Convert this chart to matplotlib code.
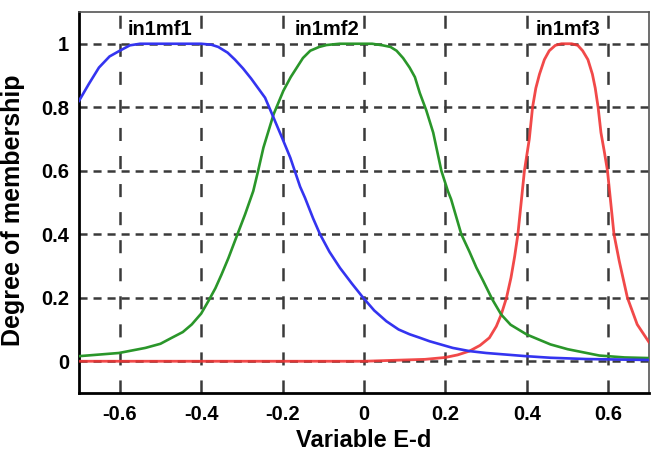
import matplotlib
matplotlib.use("Agg")
import matplotlib.pyplot as plt

plt.rcParams['font.family'] = ['Liberation Sans', 'DejaVu Sans']
plt.rcParams['lines.scale_dashes'] = False

# in1mf1 (blue)
mf1_x = [-0.70, -0.676, -0.651, -0.625, -0.60, -0.575, -0.55, -0.45, -0.40, -0.375, -0.358,
         -0.335, -0.317, -0.297, -0.277, -0.26, -0.243, -0.226, -0.20, -0.181, -0.157, -0.145,
         -0.125, -0.108, -0.085, -0.059, -0.03, -0.002, 0.025, 0.055, 0.085, 0.112, 0.137,
         0.161, 0.218, 0.259, 0.30, 0.398, 0.458, 0.545, 0.70]
mf1_y = [0.82, 0.873, 0.925, 0.96, 0.978, 0.995, 1.0, 1.0, 1.0, 0.997, 0.99,
         0.972, 0.950, 0.922, 0.89, 0.86, 0.83, 0.779, 0.70, 0.641, 0.55, 0.515,
         0.45, 0.40, 0.345, 0.294, 0.245, 0.20, 0.16, 0.126, 0.10, 0.085, 0.074,
         0.063, 0.042, 0.032, 0.026, 0.016, 0.011, 0.007, 0.004]

# in1mf2 (green)
mf2_x = [-0.70, -0.602, -0.537, -0.50, -0.472, -0.445, -0.423, -0.40, -0.382, -0.365, -0.35,
         -0.333, -0.317, -0.292, -0.272, -0.26, -0.247, -0.222, -0.198, -0.18, -0.165, -0.15,
         -0.132, -0.11, -0.092, -0.06, 0.02, 0.046, 0.065, 0.08, 0.096, 0.112, 0.125, 0.137,
         0.153, 0.17, 0.19, 0.206, 0.214, 0.239, 0.259, 0.276, 0.292, 0.315, 0.337, 0.36,
         0.40, 0.458, 0.50, 0.578, 0.64, 0.70]
mf2_y = [0.016, 0.026, 0.042, 0.055, 0.074, 0.092, 0.116, 0.15, 0.19, 0.23, 0.273,
         0.325, 0.379, 0.463, 0.536, 0.60, 0.673, 0.778, 0.852, 0.895, 0.925, 0.955,
         0.978, 0.99, 0.996, 1.0, 1.0, 0.995, 0.99, 0.978, 0.955, 0.925, 0.895, 0.845,
         0.79, 0.72, 0.60, 0.536, 0.51, 0.40, 0.345, 0.295, 0.255, 0.195, 0.147, 0.115,
         0.084, 0.053, 0.038, 0.018, 0.012, 0.01]

# in1mf3 (red)
mf3_x = [-0.70, 0.0, 0.05, 0.10, 0.15, 0.20, 0.23, 0.259, 0.285, 0.308, 0.325, 0.337, 0.35,
         0.361, 0.37, 0.378, 0.386, 0.394, 0.406, 0.414, 0.422, 0.431, 0.443, 0.455, 0.47,
         0.485, 0.51, 0.525, 0.537, 0.55, 0.561, 0.568, 0.575, 0.582, 0.590, 0.598, 0.606,
         0.614, 0.627, 0.647, 0.671, 0.70]
mf3_y = [0.0, 0.0, 0.002, 0.004, 0.006, 0.012, 0.02, 0.032, 0.05, 0.074, 0.11, 0.147, 0.20,
         0.263, 0.33, 0.40, 0.50, 0.60, 0.70, 0.80, 0.86, 0.904, 0.95, 0.978, 0.995,
         1.0, 1.0, 0.995, 0.978, 0.95, 0.904, 0.86, 0.80, 0.72, 0.662, 0.60, 0.50,
         0.40, 0.315, 0.20, 0.116, 0.06]

mf_names = ["in1mf1", "in1mf2", "in1mf3"]
mf_label_x = [-0.50, -0.09, 0.50]
mf_label_y = [1.045, 1.045, 1.045]

x_ticks = [-0.6, -0.4, -0.2, 0, 0.2, 0.4, 0.6]
x_ticklabels = ["-0.6", "-0.4", "-0.2", "0", "0.2", "0.4", "0.6"]
y_ticks = [0, 0.2, 0.4, 0.6, 0.8, 1]
y_ticklabels = ["0", "0.2", "0.4", "0.6", "0.8", "1"]

fig = plt.figure(figsize=(6.51, 4.55), dpi=100)
ax = fig.add_axes([79/651, (455-393)/455, 570/651, (393-12)/455])

ax.set_xlim(-0.7, 0.7)
ax.set_ylim(-0.1, 1.1)

# grid lines
for xv in x_ticks:
    ax.axvline(xv, color='#3a3a3a', lw=1.8, linestyle=(0, (9.4, 10.8)), zorder=1)
for yv in y_ticks:
    ax.axhline(yv, color='#3a3a3a', lw=1.8, linestyle=(0, (5.8, 4.3)), zorder=1)

ax.plot(mf3_x, mf3_y, color='#f03535', lw=2.0, zorder=3, alpha=0.9)
ax.plot(mf2_x, mf2_y, color='#2a962a', lw=1.9, zorder=3)
ax.plot(mf1_x, mf1_y, color='#3434f0', lw=1.9, zorder=3)

for name, lx, ly in zip(mf_names, mf_label_x, mf_label_y):
    ax.text(lx, ly, name, ha='center', va='center', fontsize=14.5, fontweight='bold',
            color='black', zorder=4,
            bbox=dict(facecolor='white', edgecolor='none', pad=0.5))

ax.set_xticks(x_ticks)
ax.set_xticklabels(x_ticklabels)
ax.set_yticks(y_ticks)
ax.set_yticklabels(y_ticklabels)
ax.tick_params(axis='both', length=0, labelsize=14.5)
ax.tick_params(axis='x', pad=9)
ax.tick_params(axis='y', pad=7)
for lab in ax.get_xticklabels() + ax.get_yticklabels():
    lab.set_fontweight('bold')

ax.set_xlabel("Variable E-d", fontsize=17, fontweight='bold', labelpad=3)
ax.set_ylabel("Degree of membership", fontsize=18, fontweight='bold')
ax.yaxis.set_label_coords(-0.095, 0.48)

for s in ['left', 'bottom']:
    ax.spines[s].set_color('black')
    ax.spines[s].set_linewidth(2.0)
for s in ['top', 'right']:
    ax.spines[s].set_color('#555555')
    ax.spines[s].set_linewidth(1.2)

fig.savefig("out.png", dpi=100)
